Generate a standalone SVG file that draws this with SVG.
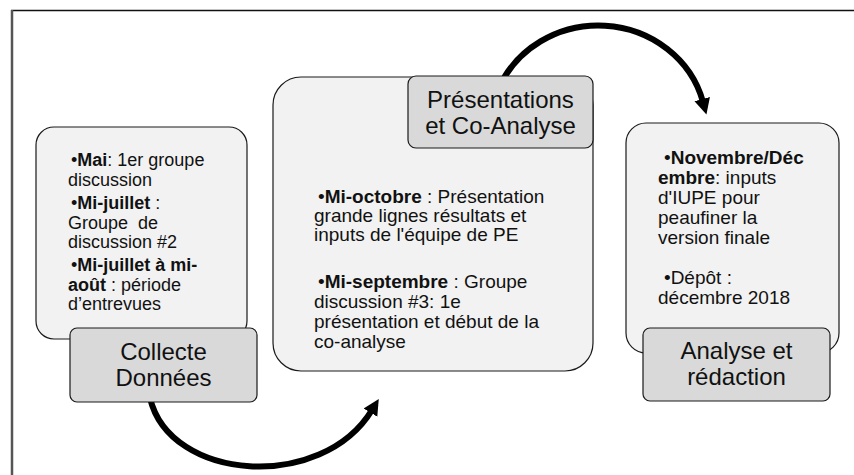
<svg xmlns="http://www.w3.org/2000/svg" width="854" height="475" viewBox="0 0 854 475">
  <style>
    .panel { fill: #f2f2f2; stroke: #1a1a1a; stroke-width: 1.2; }
    .tag { fill: #d9d9d9; stroke: #1a1a1a; stroke-width: 1.2; }
    .body { font-family: "Liberation Sans", Arial, sans-serif; font-size: 18px; fill: #111; }
    .body-m { font-family: "Liberation Sans", Arial, sans-serif; font-size: 19px; fill: #111; }
    .body-r { font-family: "Liberation Sans", Arial, sans-serif; font-size: 19px; fill: #111; }
    .b { font-weight: 700; }
    .title { font-family: "Liberation Sans", Arial, sans-serif; font-size: 24px; fill: #111; text-anchor: middle; }
    .flow { fill: none; stroke: #000; stroke-width: 6; stroke-linecap: butt; }
  </style>
  <defs>
    <marker id="head" markerUnits="userSpaceOnUse" markerWidth="18" markerHeight="18" refX="3" refY="8" orient="auto">
      <path d="M0,0 L16,8 L0,16 z" fill="#000"/>
    </marker>
  </defs>

  <rect width="854" height="475" fill="#fff"/>

  <!-- frame -->
  <g id="frame">
    <line x1="11" y1="10.5" x2="854" y2="10.5" stroke="#111" stroke-width="1.5"/>
    <line x1="12" y1="10" x2="12" y2="475" stroke="#555" stroke-width="2.5"/>
  </g>

  <!-- connectors -->
  <g id="connectors">
    <path class="flow" d="M150,398 C170,482 322,492 372,410" marker-end="url(#head)"/>
    <path class="flow" d="M498,90 A108,102 0 0 1 703,102" marker-end="url(#head)"/>
  </g>

  <!-- Collecte Données -->
  <g id="collecte">
    <rect class="panel" x="36" y="127" width="211" height="212" rx="18"/>
    <text class="body" x="71" y="166">•<tspan class="b">Mai</tspan>: 1er groupe</text>
    <text class="body" x="68" y="185.5">discussion</text>
    <text class="body" x="71" y="209">•<tspan class="b">Mi-juillet</tspan> :</text>
    <text class="body" x="68" y="228.5" xml:space="preserve">Groupe  de</text>
    <text class="body" x="68" y="248">discussion #2</text>
    <text class="body" x="71" y="271">•<tspan class="b">Mi-juillet à mi-</tspan></text>
    <text class="body" x="68" y="290.5"><tspan class="b">août</tspan> : période</text>
    <text class="body" x="68" y="310">d’entrevues</text>
    <rect class="tag" x="70" y="328" width="187" height="74" rx="7"/>
    <text class="title" x="163.5" y="360">Collecte</text>
    <text class="title" x="163.5" y="386">Données</text>
  </g>

  <!-- Présentations et Co-Analyse -->
  <g id="presentations">
    <rect class="panel" x="273" y="77" width="320" height="294" rx="28"/>
    <text class="body-m" x="318" y="203">•<tspan class="b">Mi-octobre</tspan> : Présentation</text>
    <text class="body-m" x="314" y="222">grande lignes résultats et</text>
    <text class="body-m" x="314" y="241">inputs de l'équipe de PE</text>
    <text class="body-m" x="318" y="288">•<tspan class="b">Mi-septembre</tspan> : Groupe</text>
    <text class="body-m" x="314" y="308">discussion #3: 1e</text>
    <text class="body-m" x="314" y="328">présentation et début de la</text>
    <text class="body-m" x="314" y="348">co-analyse</text>
    <rect class="tag" x="408" y="76" width="185" height="72" rx="8"/>
    <text class="title" x="500.5" y="108">Présentations</text>
    <text class="title" x="500.5" y="134">et Co-Analyse</text>
  </g>

  <!-- Analyse et rédaction -->
  <g id="analyse">
    <rect class="panel" x="626" y="123" width="213" height="230" rx="20"/>
    <text class="body-r" x="664" y="164">•<tspan class="b">Novembre/Déc</tspan></text>
    <text class="body-r" x="658" y="184"><tspan class="b">embre</tspan>: inputs</text>
    <text class="body-r" x="658" y="204">d'IUPE pour</text>
    <text class="body-r" x="658" y="224">peaufiner la</text>
    <text class="body-r" x="658" y="244">version finale</text>
    <text class="body-r" x="664" y="284">•Dépôt :</text>
    <text class="body-r" x="658" y="304">décembre 2018</text>
    <rect class="tag" x="643" y="328" width="187" height="73" rx="7"/>
    <text class="title" x="736.5" y="359">Analyse et</text>
    <text class="title" x="736.5" y="385">rédaction</text>
  </g>
</svg>
